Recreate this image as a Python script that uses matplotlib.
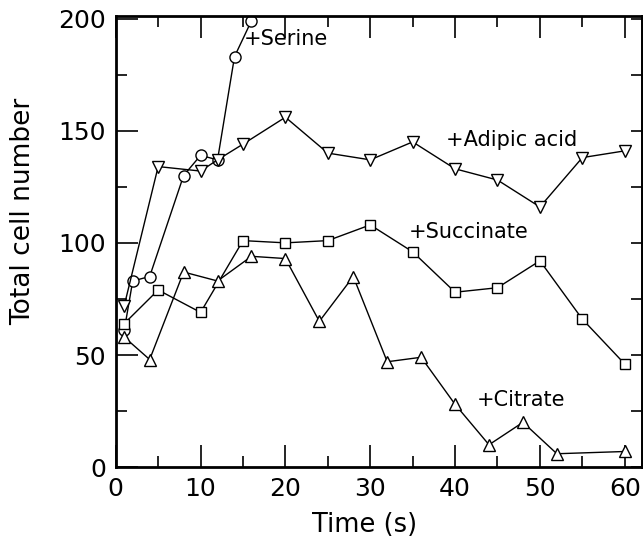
import matplotlib
matplotlib.use("Agg")
import matplotlib.pyplot as plt
from matplotlib.ticker import MultipleLocator

plt.rcParams['font.family'] = ['DejaVu Sans']

# Values
serine_t = [1, 2, 4, 8, 10, 12, 14, 16]
serine_n = [61, 83, 85, 130, 139, 137, 183, 199]

adipic_t = [1, 5, 10, 12, 15, 20, 25, 30, 35, 40, 45, 50, 55, 60]
adipic_n = [72, 134, 132, 137, 144, 156, 140, 137, 145, 133, 128, 116, 138, 141]

succinate_t = [1, 5, 10, 15, 20, 25, 30, 35, 40, 45, 50, 55, 60]
succinate_n = [64, 79, 69, 101, 100, 101, 108, 96, 78, 80, 92, 66, 46]

citrate_t = [1, 4, 8, 12, 16, 20, 24, 28, 32, 36, 40, 44, 48, 52, 60]
citrate_n = [58, 48, 87, 83, 94, 93, 65, 85, 47, 49, 28, 10, 20, 6, 7]

labels = ["+Serine", "+Adipic acid", "+Succinate", "+Citrate"]
label_pos = [(15.1, 191), (38.9, 146), (34.5, 105), (42.6, 30)]

fig = plt.figure(figsize=(6.43, 5.42), dpi=100)
ax = fig.add_axes([0.180, 0.138, 0.818, 0.832])

style = dict(color='black', lw=1, mfc='white', mec='black', mew=1, ms=8)
ax.plot(serine_t, serine_n, marker='o', **style)
ax.plot(adipic_t, adipic_n, marker='v', **style)
ax.plot(succinate_t, succinate_n, marker='s', **dict(style, ms=7))
ax.plot(citrate_t, citrate_n, marker='^', **style)

for lab, (x, y) in zip(labels, label_pos):
    ax.text(x, y, lab, fontsize=15, va='center', ha='left')

ax.set_xlim(0, 62)
ax.set_ylim(0, 201)
ax.xaxis.set_major_locator(MultipleLocator(10))
ax.xaxis.set_minor_locator(MultipleLocator(5))
ax.yaxis.set_major_locator(MultipleLocator(50))
ax.yaxis.set_minor_locator(MultipleLocator(25))
ax.tick_params(which='both', direction='in', top=True, right=False, width=1.2,
               labelsize=18)
ax.tick_params(which='major', length=16, pad=7)
ax.tick_params(which='minor', length=8)

sec = ax.secondary_yaxis('right')
sec.yaxis.set_major_locator(MultipleLocator(25))
sec.tick_params(direction='in', length=8, width=1.2, labelright=False)

for s in ax.spines.values():
    s.set_linewidth(2)
sec.spines['right'].set_linewidth(2)

ax.set_xlabel("Time (s)", fontsize=18.5)
ax.set_ylabel("Total cell number", fontsize=19)
ax.xaxis.set_label_coords(0.474, -0.10)
ax.yaxis.set_label_coords(-0.152, 0.568)

fig.savefig("out.png", dpi=100)
